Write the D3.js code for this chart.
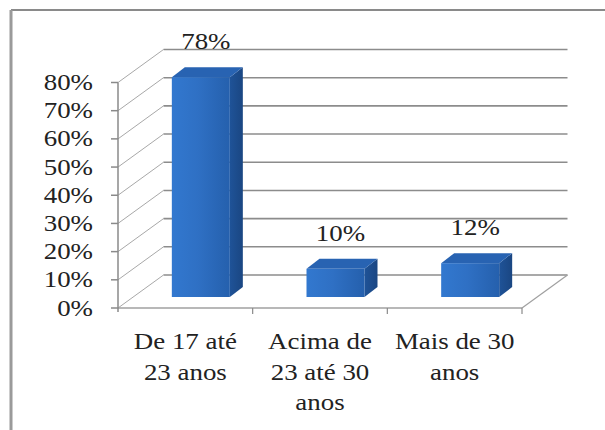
<!DOCTYPE html>
<html>
<head>
<meta charset="utf-8">
<script src="https://cdn.jsdelivr.net/npm/d3@7"></script>
<style>
  html, body { margin: 0; padding: 0; background: #fff; }
  svg { display: block; }
  .lab { font-family: "Liberation Serif"; }
</style>
</head>
<body>
<svg id="chart" width="605" height="430"></svg>
<script>
// Age groups and their shares
const categories = ["De 17 até 23 anos", "Acima de 23 até 30 anos", "Mais de 30 anos"];
const categoryLines = [["De 17 até", "23 anos"], ["Acima de", "23 até 30", "anos"], ["Mais de 30", "anos"]];
const values = [0.78, 0.10, 0.12];
const valueLabels = ["78%", "10%", "12%"];
const tickValues = [0, 0.1, 0.2, 0.3, 0.4, 0.5, 0.6, 0.7, 0.8];
const tickLabels = ["0%", "10%", "20%", "30%", "40%", "50%", "60%", "70%", "80%"];

const svg = d3.select("#chart");

// Outer frame (top and left edges)
svg.append("line").attr("x1", 11).attr("y1", 10).attr("x2", 605).attr("y2", 10)
  .attr("stroke", "#8a8a8a").attr("stroke-width", 2);
svg.append("line").attr("x1", 11).attr("y1", 10).attr("x2", 11).attr("y2", 430)
  .attr("stroke", "#9a9a9a").attr("stroke-width", 3);

// Front plane scales
const x = d3.scaleBand().domain(categories).range([118, 522]).paddingInner(0).paddingOuter(0);
const y = d3.scaleLinear().domain([0, 0.8]).range([308, 82.5]);

// Depth of the 3D box
const DX = 45.5, DY = -33;
const floorY = y(0);
const x0 = x.range()[0], x1 = x.range()[1];

const g = svg.append("g");

// Left wall diagonals
g.selectAll("line.diag").data(tickValues).join("line")
  .attr("class", "diag")
  .attr("x1", x0).attr("y1", d => y(d))
  .attr("x2", x0 + DX).attr("y2", d => y(d) + DY)
  .attr("stroke", "#a8a8a8").attr("stroke-width", 1);

// Back wall gridlines
g.selectAll("line.grid").data(tickValues).join("line")
  .attr("class", "grid")
  .attr("x1", x0 + DX).attr("y1", d => y(d) + DY)
  .attr("x2", x1 + DX).attr("y2", d => y(d) + DY)
  .attr("stroke", "#8c8c8c").attr("stroke-width", 1.6);

// Floor: front edge and right edge
g.append("line").attr("x1", x0).attr("y1", floorY).attr("x2", x1).attr("y2", floorY)
  .attr("stroke", "#a0a0a0").attr("stroke-width", 1.5);
g.append("line").attr("x1", x1).attr("y1", floorY).attr("x2", x1 + DX).attr("y2", floorY + DY)
  .attr("stroke", "#a0a0a0").attr("stroke-width", 1.2);

// Category tick marks below the floor
g.selectAll("line.ctick").data(categories).join("line")
  .attr("class", "ctick")
  .attr("x1", d => x(d) + x.bandwidth()).attr("y1", floorY)
  .attr("x2", d => x(d) + x.bandwidth()).attr("y2", floorY + 6)
  .attr("stroke", "#8a8a8a").attr("stroke-width", 1.2);

// Value axis line and ticks
g.append("line").attr("x1", x0).attr("y1", y(0.8)).attr("x2", x0).attr("y2", floorY + 4)
  .attr("stroke", "#8a8a8a").attr("stroke-width", 1.5);
g.selectAll("line.ytick").data(tickValues).join("line")
  .attr("class", "ytick")
  .attr("x1", x0 - 7).attr("y1", d => y(d))
  .attr("x2", x0).attr("y2", d => y(d))
  .attr("stroke", "#8a8a8a").attr("stroke-width", 1.5);

const SX = 1.17; // horizontal stretch of the serif text
const fontSize = 23;

g.selectAll("text.ylab").data(tickValues).join("text")
  .attr("class", "ylab lab")
  .attr("transform", d => `translate(93,${y(d) + 7.5}) scale(${SX},1)`)
  .attr("text-anchor", "end")
  .style("font-size", fontSize + "px")
  .attr("fill", "#222")
  .text((d, i) => tickLabels[i]);

// Gradients for the bar faces
const defs = svg.append("defs");
const gf = defs.append("linearGradient").attr("id", "front").attr("x1", 0).attr("x2", 1).attr("y1", 0).attr("y2", 0);
gf.append("stop").attr("offset", "0%").attr("stop-color", "#3278cf");
gf.append("stop").attr("offset", "45%").attr("stop-color", "#2f70c4");
gf.append("stop").attr("offset", "100%").attr("stop-color", "#2560ad");
const gs = defs.append("linearGradient").attr("id", "side").attr("x1", 0).attr("x2", 1).attr("y1", 0).attr("y2", 0);
gs.append("stop").attr("offset", "0%").attr("stop-color", "#1f5398");
gs.append("stop").attr("offset", "100%").attr("stop-color", "#1a4682");

// Bars: front face sits a third of the way into the depth
const FOY = -11;               // front face lift from the front plane
const BDX = 13, BDY = -10;     // bar depth
const BW = 58;                 // bar width

// left edge of the bar's front face
const left = (i) => x(categories[i]) + x.bandwidth() / 2 - 13.5;

const bars = g.selectAll("g.bar").data(values).join("g").attr("class", "bar");

bars.append("path") // side face
  .attr("d", (d, i) => {
    const l = left(i), r = l + BW, t = y(d) + FOY, b = floorY + FOY;
    return `M${r},${t} L${r + BDX},${t + BDY} L${r + BDX},${b + BDY} L${r},${b} Z`;
  })
  .attr("fill", "url(#side)");
bars.append("path") // top face
  .attr("d", (d, i) => {
    const l = left(i), r = l + BW, t = y(d) + FOY;
    return `M${l},${t} L${l + BDX},${t + BDY} L${r + BDX},${t + BDY} L${r},${t} Z`;
  })
  .attr("fill", "#2863b2");
bars.append("rect") // front face
  .attr("x", (d, i) => left(i))
  .attr("y", d => y(d) + FOY)
  .attr("width", BW)
  .attr("height", d => floorY - y(d))
  .attr("fill", "url(#front)");

// Value labels above the bars
g.selectAll("text.vlab").data(values).join("text")
  .attr("class", "vlab lab")
  .attr("transform", (d, i) => `translate(${left(i) + BW / 2 + 5},${y(d) + FOY + BDY - 18}) scale(${SX},1)`)
  .attr("text-anchor", "middle")
  .style("font-size", fontSize + "px")
  .attr("fill", "#222")
  .text((d, i) => valueLabels[i]);

// Category labels, wrapped
const cl = g.selectAll("g.clab").data(categories).join("g").attr("class", "clab");
cl.each(function (d, i) {
  const cx = x(d) + x.bandwidth() / 2;
  d3.select(this).selectAll("text").data(categoryLines[i]).join("text")
    .attr("class", "lab")
    .attr("transform", (t, j) => `translate(${cx},${349 + j * 30.5}) scale(${SX},1)`)
    .attr("text-anchor", "middle")
    .style("font-size", fontSize + "px")
    .attr("fill", "#222")
    .text(t => t);
});
</script>
</body>
</html>
